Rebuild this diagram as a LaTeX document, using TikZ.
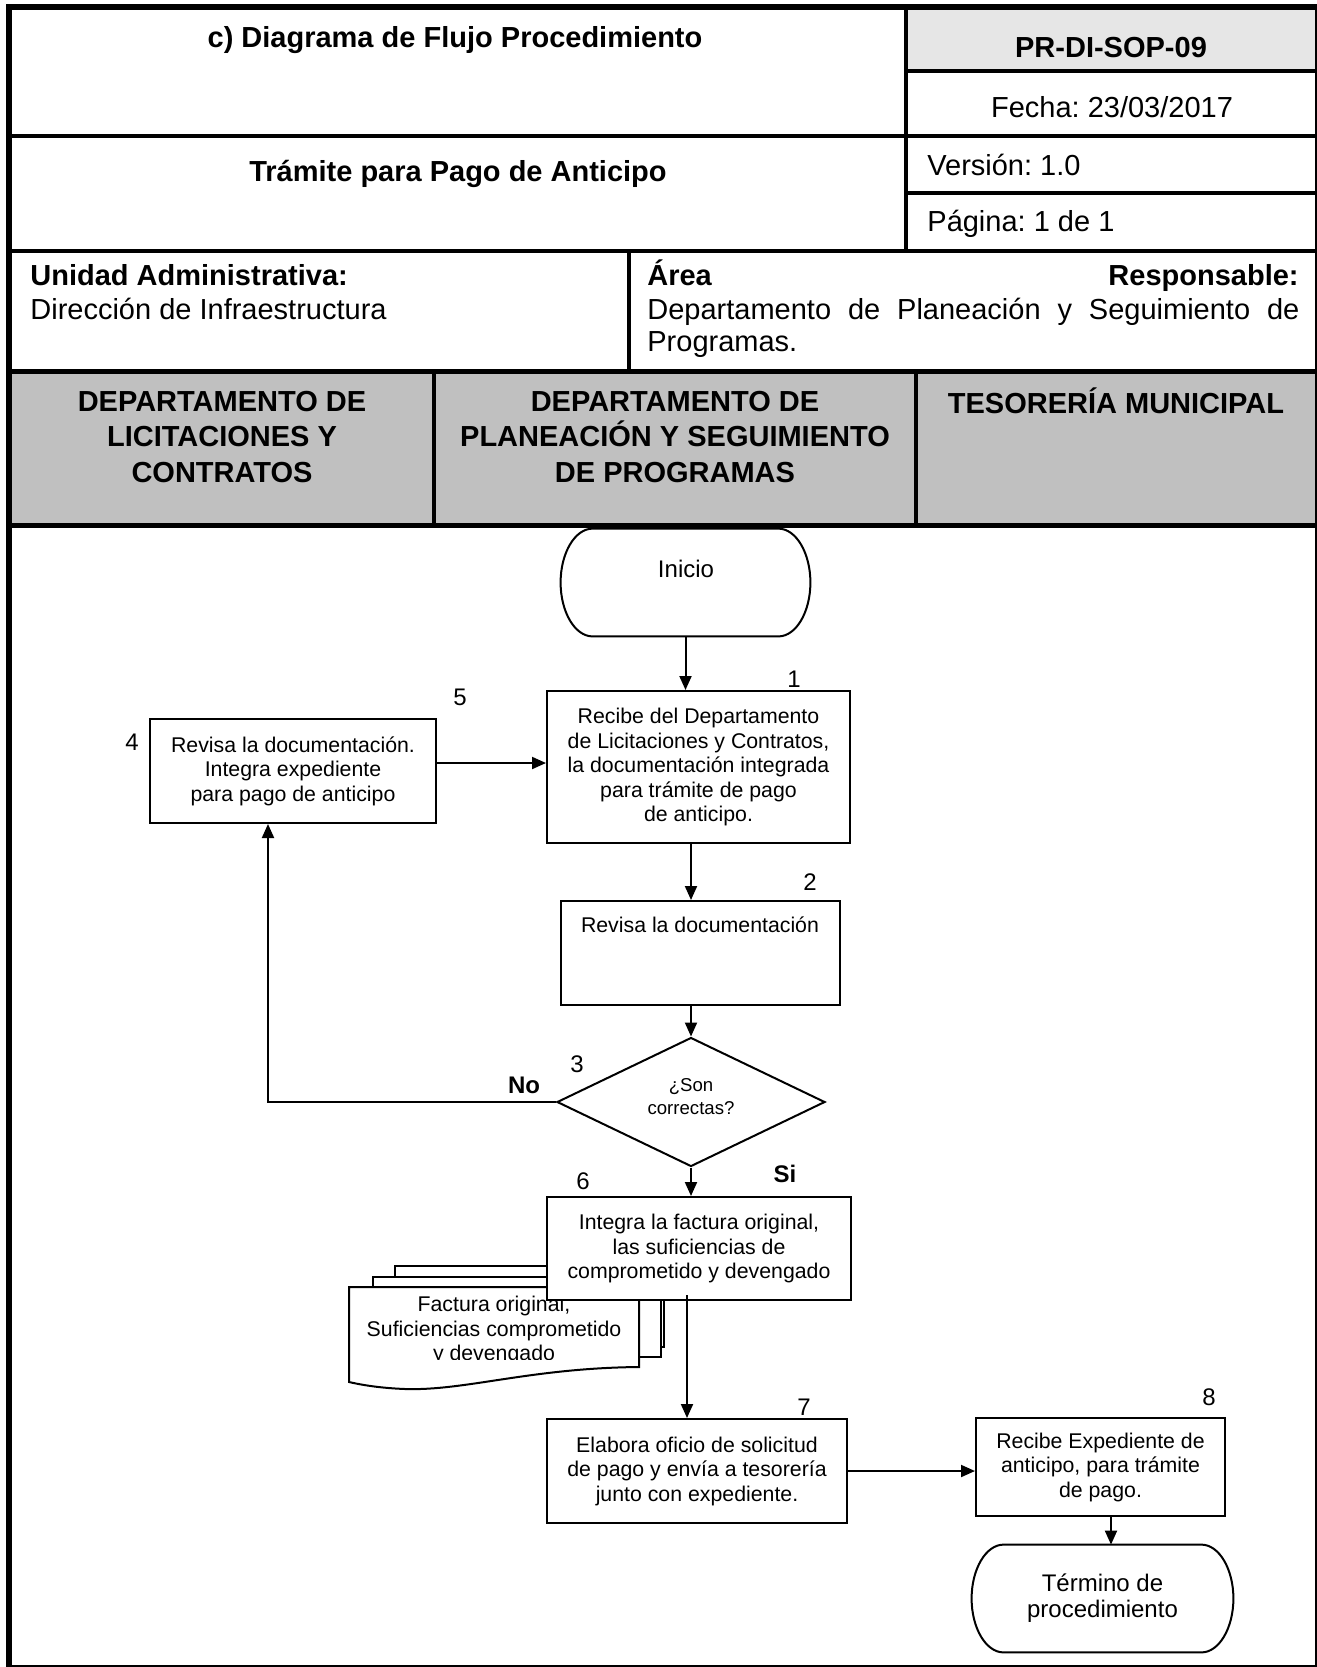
\documentclass[tikz,border=0pt]{standalone}
\usepackage{fontspec}
\setmainfont{Liberation Sans}
\usetikzlibrary{arrows.meta,shapes.geometric}
\newcommand\myfs[2]{\fontsize{#1}{#2}\selectfont}
\definecolor{hdrgray}{HTML}{E6E6E6}
\definecolor{lanegray}{HTML}{C0C0C0}
\newcommand\termshape[3]{% name, half x-radius pt, ctrl
  \draw[line width=1pt] ([xshift=#2]#1.north west) -- ([xshift=-#2]#1.north east)
   .. controls ([xshift=-#3]#1.north east) and ([yshift=14.8pt]#1.east) .. (#1.east)
   .. controls ([yshift=-14.8pt]#1.east) and ([xshift=-#3]#1.south east) .. ([xshift=-#2]#1.south east)
   -- ([xshift=#2]#1.south west)
   .. controls ([xshift=#3]#1.south west) and ([yshift=-14.8pt]#1.west) .. (#1.west)
   .. controls ([yshift=14.8pt]#1.west) and ([xshift=#3]#1.north west) .. ([xshift=#2]#1.north west) -- cycle;}
\begin{document}
\frenchspacing
\begin{tikzpicture}[x=0.5pt,y=-0.5pt,
  hdr/.style={font=\bfseries\myfs{14.5}{17.5}, inner sep=0pt},
  hdrn/.style={font=\myfs{14.5}{17.5}, inner sep=0pt},
  lane/.style={font=\bfseries\myfs{14.5}{17.8}, align=center, inner sep=0pt},
  box/.style={draw, line width=1pt, fill=white, align=center, font=\myfs{10.65}{12.25}, inner sep=0pt},
  termbox/.style={draw=none, align=center, font=\myfs{12}{13}, inner sep=0pt},
  num/.style={font=\myfs{12}{14}, inner sep=0pt},
  bnum/.style={font=\bfseries\myfs{12}{14}, inner sep=0pt},
  arr/.style={line width=1pt, -{Triangle[length=7pt,width=6pt]}},
  grid/.style={line width=1.6pt},
]
\useasboundingbox (0,0) rectangle (1317,1667);
% ---------- header ----------
\fill[hdrgray] (906,6) rectangle (1317,71);
\fill[lanegray] (9,371) rectangle (1317,525);
\draw[grid] (906,6) -- (906,251);
\draw[grid] (9,136) -- (1317,136);
\draw[grid] (906,71) -- (1317,71);
\draw[grid] (906,193) -- (1317,193);
\draw[grid] (9,251) -- (1317,251);
\draw[grid] (629,251) -- (629,371);
\draw[line width=2.5pt] (9,371) -- (1317,371);
\draw[grid] (434,371) -- (434,525);
\draw[grid] (916,371) -- (916,525);
\draw[line width=2.8pt] (9,525.5) -- (1317,525.5);
\draw[line width=3pt] (9,6.5) rectangle (1318,1668);

\node[hdr, anchor=base] (title) at (455,47) {c) Diagrama de Flujo Procedimiento};
\node[hdr, anchor=base] (code) at (1111,57) {PR-DI-SOP-09};
\node[hdrn, anchor=base] (fecha) at (1112,117) {Fecha: 23/03/2017};
\node[hdr, anchor=base] (tram) at (458,181) {Trámite para Pago de Anticipo};
\node[hdrn, anchor=base west] (vers) at (927,175) {Versión: 1.0};
\node[hdrn, anchor=base west] (pag) at (927,231) {Página: 1 de 1};
\node[hdr, anchor=base west] (unid) at (30,285) {Unidad Administrativa:};
\node[hdrn, anchor=base west] (dir) at (30,319) {Dirección de Infraestructura};
\node[hdr, anchor=base west] (area) at (647,285) {Área};
\node[hdr, anchor=base east] (resp) at (1299,285) {Responsable:};
\node[hdrn, anchor=base west] (depto) at (647,319)
  {\makebox[326pt][s]{Departamento de Planeación y Seguimiento de}};
\node[hdrn, anchor=base west] (prog) at (647,351) {Programas.};

\node[lane] (lane1) at (222,437) {DEPARTAMENTO DE\\LICITACIONES Y\\CONTRATOS};
\node[lane] (lane2) at (675,437) {DEPARTAMENTO DE\\PLANEACIÓN Y SEGUIMIENTO\\DE PROGRAMAS};
\node[lane] (lane3) at (1116,401) {TESORERÍA MUNICIPAL};

% ---------- flow ----------
\node[termbox, minimum width=124.5pt, minimum height=53.5pt] (inicio) at (685.5,582.5) {};
\termshape{inicio}{16pt}{7.2pt}
\node[font=\myfs{12}{13}, inner sep=0pt] (iniciotxt) at (686,569) {Inicio};

\node[box, minimum width=151.5pt, minimum height=76pt] (box1) at (698.5,767)
  {Recibe del Departamento\\de Licitaciones y Contratos,\\la documentación integrada\\para trámite de pago\\de anticipo.};
\node[box, minimum width=143pt, minimum height=52pt] (box4) at (293,771)
  {Revisa la documentación.\\Integra expediente\\para pago de anticipo};
\node[box, minimum width=139.5pt, minimum height=52pt] (box2) at (700.5,953) {};
\node[font=\myfs{10.65}{12.25}, inner sep=0pt] (box2txt) at (700,925) {Revisa la documentación};
\node[draw, diamond, line width=1pt, fill=white, minimum width=134pt, minimum height=64.5pt,
      inner sep=0pt] (dia) at (691,1102) {};
\node[align=center, font=\myfs{9.3}{11.5}, inner sep=0pt] (diatxt) at (691,1097) {¿Son\\correctas?};

% document stack
\draw[line width=1pt, fill=white] (395,1266) rectangle (664,1347);
\draw[line width=1pt, fill=white] (373,1277) rectangle (661,1357);
\draw[line width=1pt, fill=white] (349,1287) -- (639,1287) -- (639,1367)
  .. controls (530,1368) and (465,1391) .. (405,1389)
  .. controls (380,1388) and (362,1385) .. (349,1382) -- cycle;
\begin{scope}
\clip (349,1287) rectangle (639,1359);
\node[font=\myfs{10.65}{12.25}, align=center, inner sep=0pt, anchor=north] (doc) at (494,1296)
  {Factura original,\\Suficiencias comprometido\\y devengado};
\end{scope}

\node[box, minimum width=152pt, minimum height=51.5pt] (box6) at (699,1248.5)
  {Integra la factura original,\\las suficiencias de\\comprometido y devengado};
\node[box, minimum width=150pt, minimum height=52pt] (box7) at (697,1471)
  {Elabora oficio de solicitud\\de pago y envía a tesorería\\junto con expediente.};
\node[box, minimum width=124.5pt, minimum height=49pt] (box8) at (1100.5,1467)
  {Recibe Expediente de\\anticipo, para trámite\\de pago.};
\node[termbox, minimum width=130.5pt, minimum height=53.5pt] (term) at (1102.5,1598.5)
  {Término de\\procedimiento};
\termshape{term}{16pt}{7.2pt}

% numbers
\node[num] (n1) at (794,679) {1};
\node[num] (n2) at (810,882) {2};
\node[num] (n3) at (577,1064) {3};
\node[num] (n4) at (132,742) {4};
\node[num] (n5) at (460,697) {5};
\node[num] (n6) at (583,1181) {6};
\node[num] (n7) at (804,1407) {7};
\node[num] (n8) at (1209,1397) {8};
\node[bnum] (no) at (524,1085) {No};
\node[bnum] (si) at (785,1174) {Si};

% connectors
\coordinate (cx) at (691,0);
\coordinate (nx) at (268,1102);
\coordinate (sx) at (687,1295);
\coordinate (tx) at (1111,0);
\draw[arr] (inicio.south) -- (box1.north -| inicio.south);
\draw[arr] ([yshift=4pt]box4.east) -- ([yshift=4pt]box4.east -| box1.west);
\draw[arr] (box1.south -| cx) -- (box2.north -| cx);
\draw[arr] (box2.south -| cx) -- (dia.north);
\draw[arr] (dia.west) -- (nx) -- (box4.south -| nx);
\draw[arr] (dia.south) -- (box6.north -| dia.south);
\draw[arr] (sx) -- (box7.north -| sx);
\draw[arr] (box7.east) -- (box7.east -| box8.west);
\draw[arr] (box8.south -| tx) -- (term.north -| tx);
\end{tikzpicture}
\end{document}
